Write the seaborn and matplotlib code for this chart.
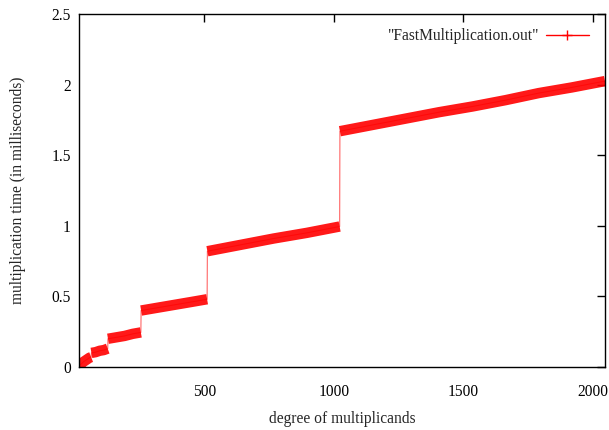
import pandas as pd
import seaborn as sns
import matplotlib.pyplot as plt
from matplotlib.lines import Line2D

# values, one list per plateau of the staircase
degree_1 = [16, 24, 32, 40, 48, 56, 63]
time_1 = [0.01, 0.02, 0.035, 0.045, 0.055, 0.065, 0.07]
degree_2 = [64, 80, 96, 112, 127]
time_2 = [0.10, 0.105, 0.115, 0.12, 0.13]
degree_3 = [128, 160, 192, 224, 255]
time_3 = [0.20, 0.21, 0.22, 0.235, 0.245]
degree_4 = [256, 320, 384, 448, 511]
time_4 = [0.40, 0.42, 0.44, 0.46, 0.48]
degree_5 = [512, 640, 768, 896, 1023]
time_5 = [0.82, 0.865, 0.91, 0.95, 0.995]
degree_6 = [1024, 1152, 1280, 1408, 1536, 1664, 1792, 1920, 2048]
time_6 = [1.67, 1.715, 1.76, 1.805, 1.845, 1.89, 1.94, 1.98, 2.025]

x_ticks = [500, 1000, 1500, 2000]
y_ticks = [0, 0.5, 1, 1.5, 2, 2.5]
y_tick_labels = ["0", "0.5", "1", "1.5", "2", "2.5"]
series_label = '"FastMultiplication.out"'

# build one long table, plateau id kept as a unit column
frames = []
for i, (d, t) in enumerate([(degree_1, time_1), (degree_2, time_2), (degree_3, time_3),
                            (degree_4, time_4), (degree_5, time_5), (degree_6, time_6)]):
    frames.append(pd.DataFrame({"degree": d, "time": t, "plateau": i}))
df = pd.concat(frames, ignore_index=True)

sns.set_style("white")
plt.rcParams["font.family"] = ["Liberation Serif", "DejaVu Serif"]
fs = 11.2
plt.rcParams["font.size"] = fs

fig = plt.figure(figsize=(6.09, 4.30), dpi=100)
ax = fig.add_axes([0.1297, 0.1465, 0.8637, 0.8209])

red = "#ff0000"
# thin connecting line (shows the vertical jumps)
sns.lineplot(data=df, x="degree", y="time", color=red, linewidth=0.8, alpha=0.6,
             estimator=None, sort=False, ax=ax)
# thick band for each plateau, mimicking the dense '+' points
sns.lineplot(data=df, x="degree", y="time", units="plateau", estimator=None,
             color=red, linewidth=7.5, alpha=0.9, solid_capstyle="butt", ax=ax)

ax.set_xlim(16, 2048)
ax.set_ylim(0, 2.5)
ax.set_xticks(x_ticks)
ax.set_xticklabels([str(v) for v in x_ticks])
ax.set_yticks(y_ticks)
ax.set_yticklabels(y_tick_labels)
ax.tick_params(direction="in", length=6, width=1, top=True, right=True,
               labelsize=fs, colors="black")
ax.tick_params(axis="x", pad=12)
ax.tick_params(axis="y", pad=6)
for s in ax.spines.values():
    s.set_color("black")
    s.set_linewidth(1.0)

ax.set_xlabel("degree of multiplicands", fontsize=fs, labelpad=8)
ax.set_ylabel("multiplication time (in milliseconds)", fontsize=fs, labelpad=18)

handle = Line2D([], [], color=red, linewidth=1, marker="+", markersize=7)
ax.legend([handle], [series_label], loc="upper right", frameon=False,
          markerfirst=False, handlelength=2.76, handletextpad=0.45, fontsize=fs,
          bbox_to_anchor=(0.99, 0.99), borderaxespad=0.3)

fig.savefig("out.png", dpi=100)
